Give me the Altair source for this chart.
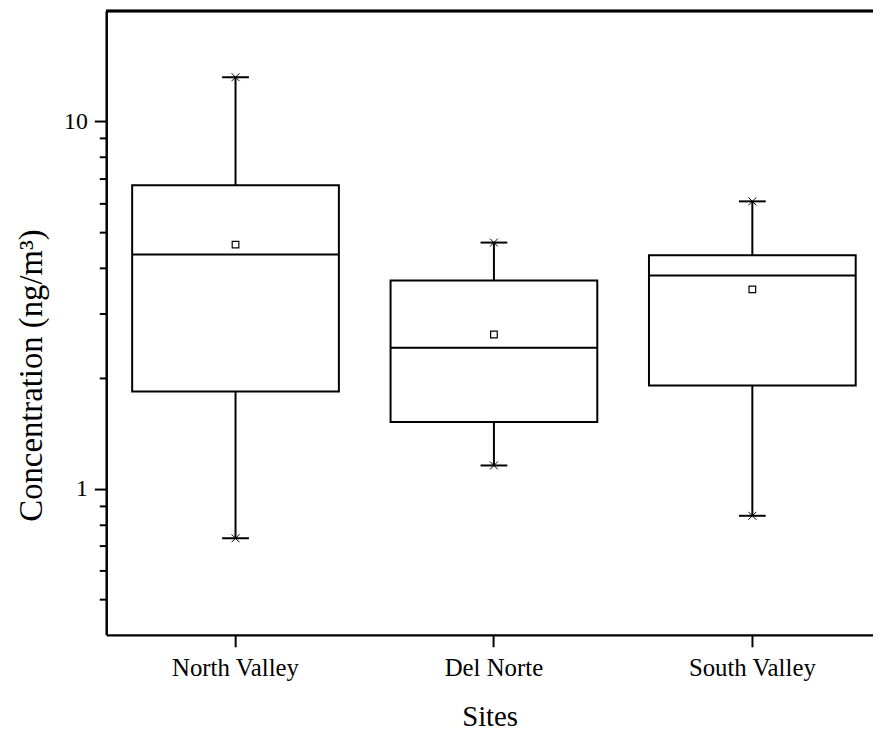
import altair as alt
import pandas as pd

sites = ["North Valley", "Del Norte", "South Valley"]
whisker_low = [0.733, 1.157, 0.844]
q1 = [1.84, 1.52, 1.91]
median = [4.34, 2.42, 3.81]
q3 = [6.70, 3.69, 4.32]
whisker_high = [13.2, 4.68, 6.06]
mean = [4.62, 2.63, 3.49]

y_ticks = [0.5, 0.6, 0.7, 0.8, 0.9, 1, 2, 3, 4, 5, 6, 7, 8, 9, 10]

df = pd.DataFrame({
    "site": sites, "lo": whisker_low, "q1": q1, "med": median,
    "q3": q3, "hi": whisker_high, "mean": mean,
})

W, H = 773, 629
FONT = "Liberation Serif"

xscale = alt.Scale(domain=sites, paddingInner=0.2, paddingOuter=0.0837, align=0.6)
yscale = alt.Scale(type="log", domain=[0.4, 20], nice=False)

xaxis = alt.Axis(
    title="Sites", labelAngle=0, domainWidth=2.5, domainColor="black",
    tickWidth=2, tickSize=12, tickColor="black", labelPadding=9,
    labelFont=FONT, labelFontSize=25, labelColor="black",
    titleFont=FONT, titleFontSize=29, titleFontWeight="normal",
    titleColor="black", titlePadding=22, grid=False,
)
yaxis = alt.Axis(
    title="Concentration (ng/m³)", values=y_ticks,
    labelExpr="datum.value == 1 ? '1' : datum.value == 10 ? '10' : ''",
    tickSize={"condition": {"test": "datum.value == 1 || datum.value == 10", "value": 12}, "value": 7},
    tickWidth=2, tickColor="black", domainWidth=2.5, domainColor="black",
    labelPadding=7, labelFont=FONT, labelFontSize=24, labelColor="black",
    titleFont=FONT, titleFontSize=33, titleFontWeight="normal",
    titleColor="black", titleX=-58, titleY=367, titleAlign="center",
    titleBaseline="bottom", titleAngle=270, grid=False,
)

base = alt.Chart(df).encode(
    x=alt.X("site:N", sort=sites, scale=xscale, axis=xaxis)
)

LW = 2
boxes = base.mark_bar(fill="white", stroke="black", strokeWidth=LW, opacity=1).encode(
    y=alt.Y("q1:Q", scale=yscale, axis=yaxis), y2="q3:Q"
)
med = base.mark_tick(color="black", thickness=LW, size=208, opacity=1).encode(y="med:Q")
wup = base.mark_rule(color="black", strokeWidth=LW, opacity=1).encode(y="q3:Q", y2="hi:Q")
wdn = base.mark_rule(color="black", strokeWidth=LW, opacity=1).encode(y="lo:Q", y2="q1:Q")
cap_hi = base.mark_tick(color="black", thickness=LW, size=27, opacity=1).encode(y="hi:Q")
cap_lo = base.mark_tick(color="black", thickness=LW, size=27, opacity=1).encode(y="lo:Q")
xshape = "M-1,-1L1,1M1,-1L-1,1"
x_hi = base.mark_point(shape=xshape, size=64, filled=False, color="black", strokeWidth=1, opacity=1).encode(y="hi:Q")
x_lo = base.mark_point(shape=xshape, size=64, filled=False, color="black", strokeWidth=1, opacity=1).encode(y="lo:Q")
mean_pt = base.mark_point(shape="square", size=45, filled=False, color="black", strokeWidth=1.2, opacity=1).encode(y="mean:Q")

top_line = alt.Chart(df).mark_rule(color="black", strokeWidth=2.5).encode(
    x=alt.value(0), x2=alt.value(W), y=alt.value(0)
)

chart = alt.layer(
    boxes, med, wup, wdn, cap_hi, cap_lo, x_hi, x_lo, mean_pt, top_line
).properties(
    width=W, height=H,
    autosize=alt.AutoSizeParams(type="none"),
    padding={"left": 99, "top": 0, "right": 0, "bottom": 100},
    background="white",
).configure_view(stroke=None)

chart.save("out.html", embed_options={"renderer": "svg", "actions": False})
